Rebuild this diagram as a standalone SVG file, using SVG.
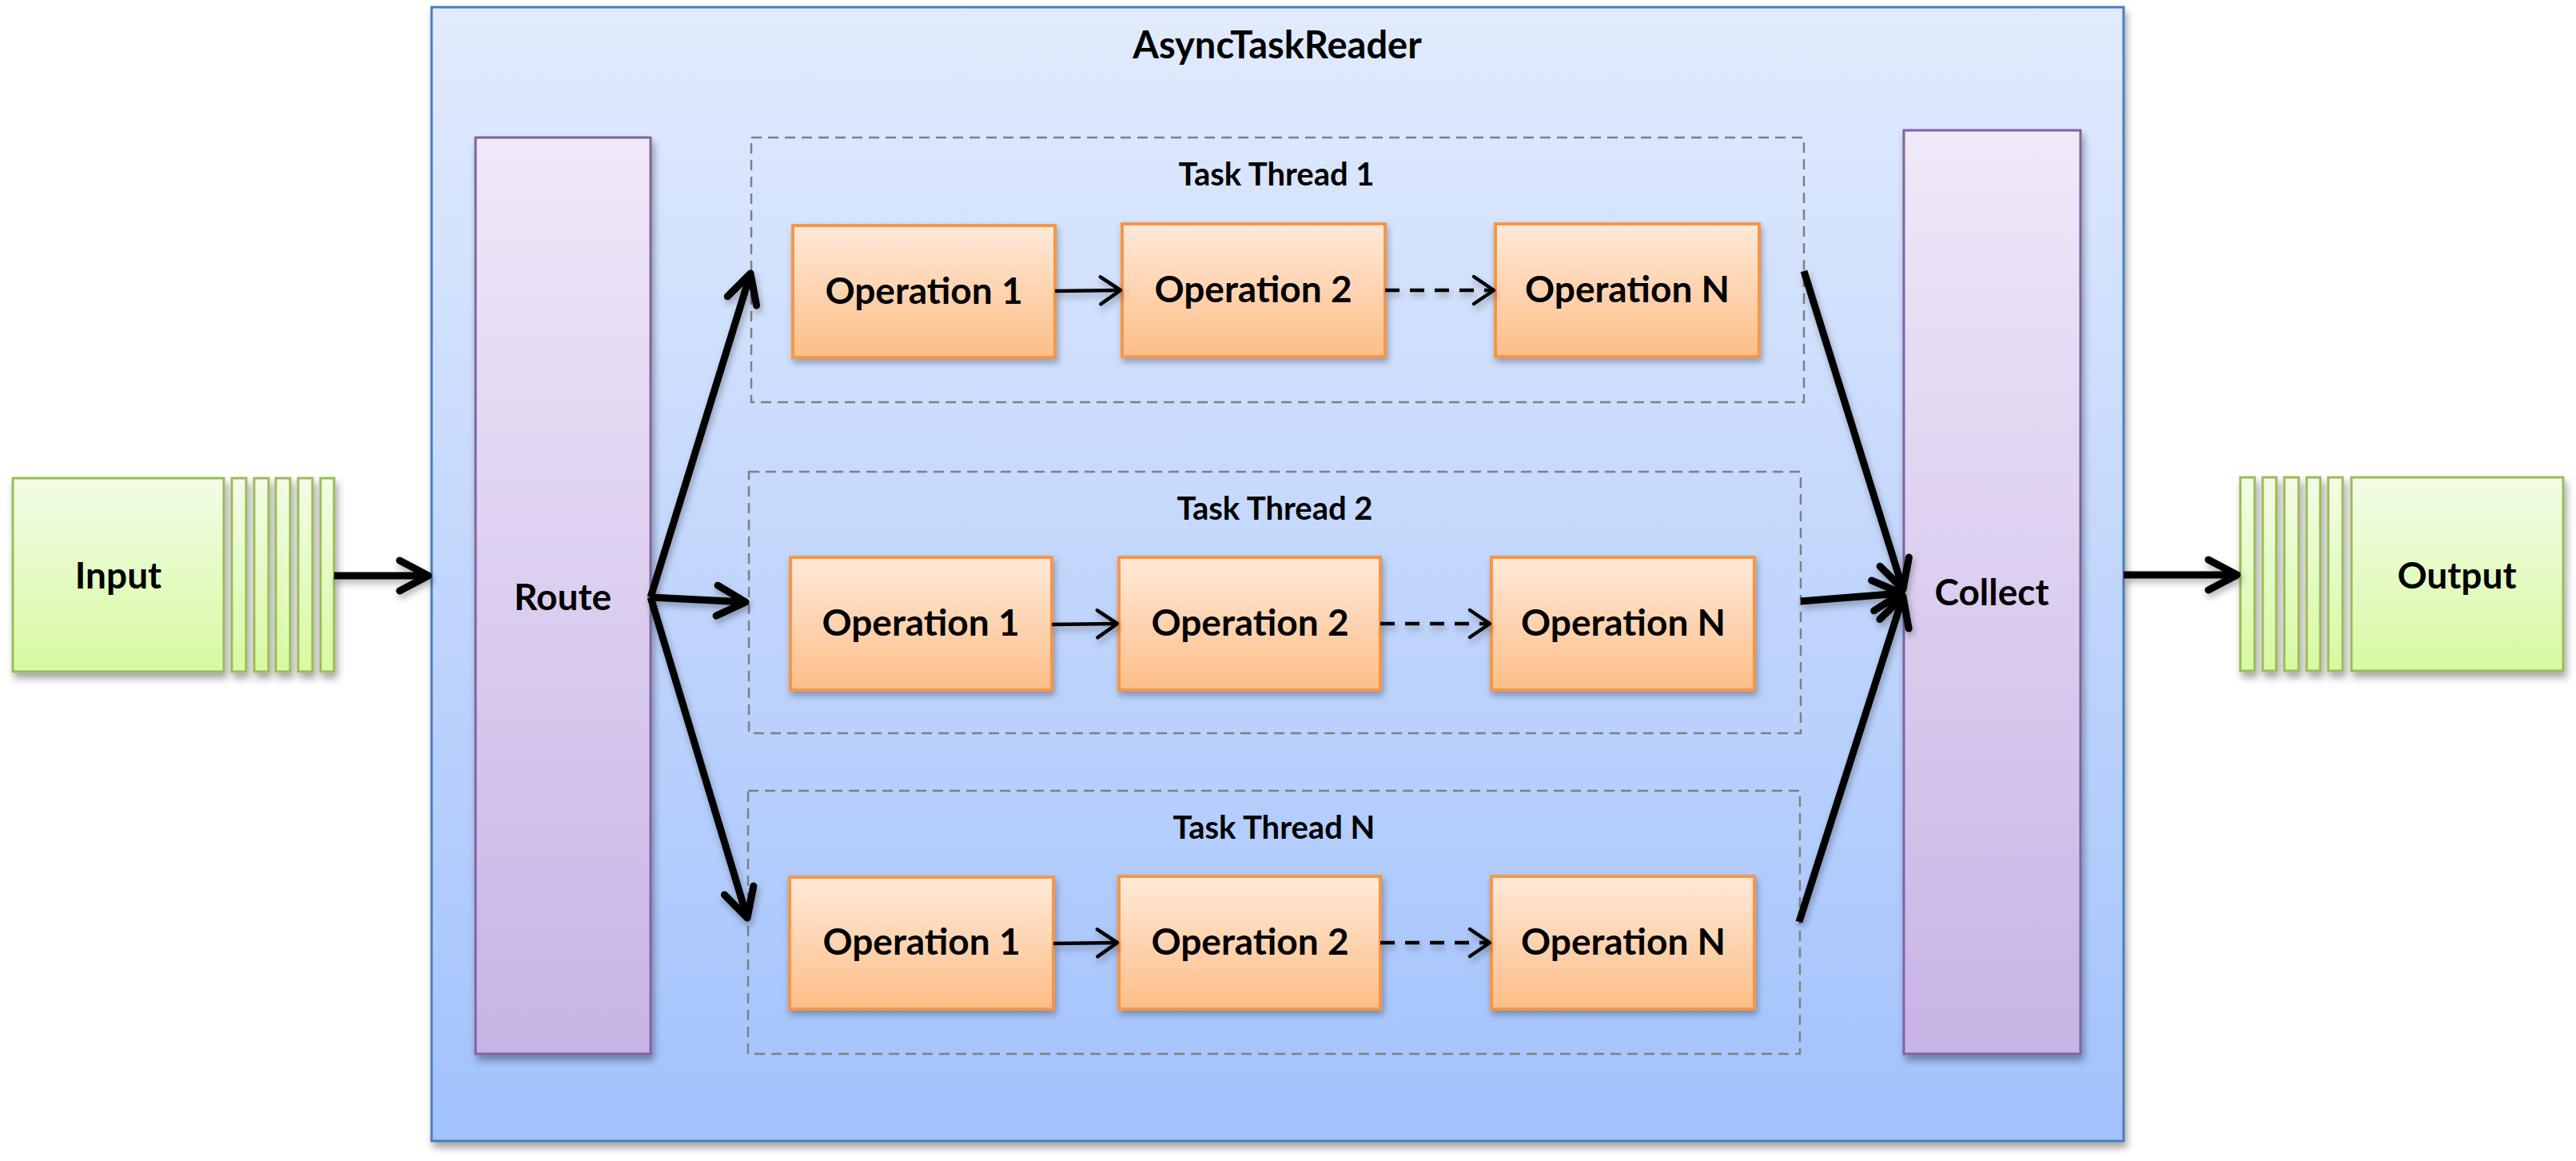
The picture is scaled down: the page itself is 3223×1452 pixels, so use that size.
<svg xmlns="http://www.w3.org/2000/svg" width="3223" height="1452" viewBox="0 0 3223 1452">
<style>
  text { font-family: Lato, "Open Sans", "Liberation Sans", sans-serif; font-weight: bold; fill: #000; text-anchor: middle; }
  .title { font-size: 47px; }
  .tlabel { font-size: 40px; }
  .op-t { font-size: 46px; }
  .big { font-size: 46px; }
  .outer { fill: url(#gBlue); stroke: #4a7ebb; stroke-width: 3; }
  .purp { fill: url(#gPurple); stroke: #7f63a1; stroke-width: 3; }
  .op { fill: url(#gOrange); stroke: #f79646; stroke-width: 4; }
  .green { fill: url(#gGreen); stroke: #9bbb59; stroke-width: 3; }
  .thread { fill: none; stroke: #808080; stroke-width: 2.5; stroke-dasharray: 13 8; }
  .conn { fill: none; stroke: #000; stroke-width: 9; marker-end: url(#bigHead); }
  .opconn { fill: none; stroke: #000; stroke-width: 4.5; marker-end: url(#smallHead); }
  .dash { stroke-dasharray: 18 13; }
</style>
<defs>
  <linearGradient id="gBlue" x1="0" y1="0" x2="0" y2="1">
    <stop offset="0" stop-color="#e2ebfd"/>
    <stop offset="1" stop-color="#a2c2fc"/>
  </linearGradient>
  <linearGradient id="gPurple" x1="0" y1="0" x2="0" y2="1">
    <stop offset="0" stop-color="#efe9f8"/>
    <stop offset="1" stop-color="#c8b3e6"/>
  </linearGradient>
  <linearGradient id="gOrange" x1="0" y1="0" x2="0" y2="1">
    <stop offset="0" stop-color="#ffe9d9"/>
    <stop offset="1" stop-color="#fdbe87"/>
  </linearGradient>
  <linearGradient id="gGreen" x1="0" y1="0" x2="0" y2="1">
    <stop offset="0" stop-color="#f2fce6"/>
    <stop offset="1" stop-color="#d8f9a1"/>
  </linearGradient>
  <filter id="shadow" x="-10%" y="-10%" width="130%" height="130%">
    <feDropShadow dx="3" dy="7" stdDeviation="5" flood-color="#000" flood-opacity="0.35"/>
  </filter>
  <filter id="lshadow" x="-20%" y="-20%" width="140%" height="140%">
    <feDropShadow dx="2" dy="5" stdDeviation="4" flood-color="#000" flood-opacity="0.3"/>
  </filter>
  <marker id="bigHead" markerUnits="userSpaceOnUse" viewBox="-50 -30 60 60" markerWidth="60" markerHeight="60" refX="0" refY="0" orient="auto" overflow="visible">
    <path d="M -36 -19 L 0 0 L -36 19" fill="none" stroke="#000" stroke-width="9" stroke-linecap="round" stroke-linejoin="round"/>
  </marker>
  <marker id="smallHead" markerUnits="userSpaceOnUse" viewBox="-40 -25 50 50" markerWidth="50" markerHeight="50" refX="0" refY="0" orient="auto" overflow="visible">
    <path d="M -25 -17 L 0 0 L -25 17" fill="none" stroke="#000" stroke-width="4.5" stroke-linecap="round" stroke-linejoin="round"/>
  </marker>
</defs>
<rect width="3223" height="1452" fill="#ffffff"/>

<g id="asyncTaskReader">
  <rect class="outer" x="540" y="9" width="2117" height="1418" filter="url(#shadow)"/>
  <text class="title" x="1598" y="73">AsyncTaskReader</text>
</g>

<g id="input">
  <g filter="url(#shadow)">
    <rect class="green" x="16" y="598" width="264" height="242"/>
    <rect class="green" x="290" y="598" width="18" height="242"/>
    <rect class="green" x="318" y="598" width="18" height="242"/>
    <rect class="green" x="345" y="598" width="18" height="242"/>
    <rect class="green" x="373" y="598" width="18" height="242"/>
    <rect class="green" x="401" y="598" width="17" height="242"/>
  </g>
  <text class="big" x="148" y="736">Input</text>
</g>

<g id="output">
  <g filter="url(#shadow)">
    <rect class="green" x="2803" y="597" width="18" height="242"/>
    <rect class="green" x="2831" y="597" width="17" height="242"/>
    <rect class="green" x="2858" y="597" width="18" height="242"/>
    <rect class="green" x="2886" y="597" width="17" height="242"/>
    <rect class="green" x="2913" y="597" width="18" height="242"/>
    <rect class="green" x="2942" y="597" width="265" height="242"/>
  </g>
  <text class="big" x="3074" y="736">Output</text>
</g>

<g id="route">
  <rect class="purp" x="595" y="172" width="219" height="1146" filter="url(#shadow)"/>
  <text class="big" x="704" y="763">Route</text>
</g>

<g id="collect">
  <rect class="purp" x="2382" y="163" width="221" height="1155" filter="url(#shadow)"/>
  <text class="big" x="2492" y="757">Collect</text>
</g>

<g id="taskThread1">
  <rect class="thread" x="940" y="172" width="1317" height="331"/>
  <text class="tlabel" x="1597" y="232">Task Thread 1</text>
</g>
<g id="t1op1">
  <rect class="op" x="992" y="282" width="328" height="165" filter="url(#lshadow)"/>
  <text class="op-t" x="1156" y="380">Operation 1</text>
</g>
<g id="t1op2">
  <rect class="op" x="1404" y="280" width="329" height="166" filter="url(#lshadow)"/>
  <text class="op-t" x="1568" y="378">Operation 2</text>
</g>
<g id="t1opN">
  <rect class="op" x="1871" y="280" width="330" height="166" filter="url(#lshadow)"/>
  <text class="op-t" x="2036" y="378">Operation N</text>
</g>

<g id="taskThread2">
  <rect class="thread" x="937" y="590" width="1316" height="327"/>
  <text class="tlabel" x="1595" y="650">Task Thread 2</text>
</g>
<g id="t2op1">
  <rect class="op" x="989" y="697" width="327" height="166" filter="url(#lshadow)"/>
  <text class="op-t" x="1152" y="795">Operation 1</text>
</g>
<g id="t2op2">
  <rect class="op" x="1400" y="697" width="327" height="166" filter="url(#lshadow)"/>
  <text class="op-t" x="1564" y="795">Operation 2</text>
</g>
<g id="t2opN">
  <rect class="op" x="1866" y="697" width="329" height="166" filter="url(#lshadow)"/>
  <text class="op-t" x="2031" y="795">Operation N</text>
</g>

<g id="taskThreadN">
  <rect class="thread" x="936" y="989" width="1316" height="329"/>
  <text class="tlabel" x="1594" y="1049">Task Thread N</text>
</g>
<g id="tNop1">
  <rect class="op" x="988" y="1097" width="330" height="165" filter="url(#lshadow)"/>
  <text class="op-t" x="1153" y="1194">Operation 1</text>
</g>
<g id="tNop2">
  <rect class="op" x="1400" y="1096" width="327" height="166" filter="url(#lshadow)"/>
  <text class="op-t" x="1564" y="1194">Operation 2</text>
</g>
<g id="tNopN">
  <rect class="op" x="1866" y="1096" width="329" height="166" filter="url(#lshadow)"/>
  <text class="op-t" x="2031" y="1194">Operation N</text>
</g>

<g id="connectors" filter="url(#lshadow)">
  <line class="conn" x1="418" y1="720" x2="536" y2="720"/>
  <line class="conn" x1="814" y1="747" x2="939" y2="342"/>
  <line class="conn" x1="814" y1="747" x2="933" y2="753"/>
  <line class="conn" x1="814" y1="747" x2="935" y2="1148"/>
  <line class="conn" x1="2257" y1="339" x2="2381" y2="737"/>
  <line class="conn" x1="2253" y1="752" x2="2379" y2="742"/>
  <line class="conn" x1="2251" y1="1153" x2="2381" y2="746"/>
  <line class="conn" x1="2657" y1="719" x2="2799" y2="719"/>
  <line class="opconn" x1="1320" y1="364" x2="1402" y2="363"/>
  <line class="opconn dash" x1="1733" y1="363" x2="1869" y2="363"/>
  <line class="opconn" x1="1316" y1="781" x2="1398" y2="780"/>
  <line class="opconn dash" x1="1727" y1="780" x2="1864" y2="780"/>
  <line class="opconn" x1="1318" y1="1180" x2="1398" y2="1179"/>
  <line class="opconn dash" x1="1727" y1="1179" x2="1864" y2="1179"/>
</g>
</svg>
